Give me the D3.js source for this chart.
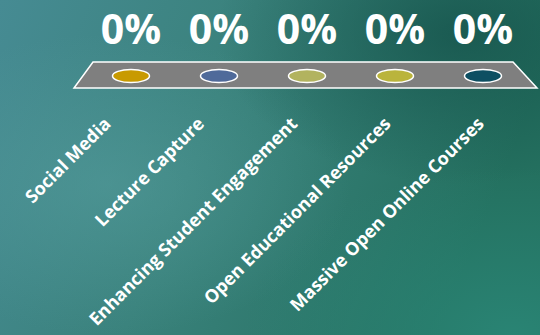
<!DOCTYPE html>
<html>
<head>
<meta charset="utf-8">
<script src="https://cdn.jsdelivr.net/npm/d3@7"></script>
<style>
  body { margin: 0; overflow: hidden; }
  svg { display: block; }
</style>
</head>
<body>
<div class="chart"></div>
<script>
// data
var categories = ["Social Media", "Lecture Capture", "Enhancing Student Engagement",
  "Open Educational Resources", "Massive Open Online Courses"];
var values = [0, 0, 0, 0, 0];
var barColors = ["#c89a00", "#4f6a9a", "#b2b35f", "#bab43c", "#0d4f62"];

var svgWidth = 540;
var svgHeight = 335;

var svg = d3.select(".chart")
  .append("svg")
  .attr("width", svgWidth)
  .attr("height", svgHeight);

// background gradients
var defs = svg.append("defs");
var bg = defs.append("linearGradient").attr("id", "bg")
  .attr("x1", "0").attr("y1", "0").attr("x2", "1").attr("y2", "0.25");
bg.append("stop").attr("offset", "0").attr("stop-color", "#468b93");
bg.append("stop").attr("offset", "0.45").attr("stop-color", "#3a827c");
bg.append("stop").attr("offset", "1").attr("stop-color", "#24705f");

var glow = defs.append("radialGradient").attr("id", "glow")
  .attr("cx", "0.2").attr("cy", "0.55").attr("r", "0.45");
glow.append("stop").attr("offset", "0").attr("stop-color", "#58a0a0").attr("stop-opacity", 0.5);
glow.append("stop").attr("offset", "1").attr("stop-color", "#58a0a0").attr("stop-opacity", 0);

var dark = defs.append("radialGradient").attr("id", "dark")
  .attr("cx", "0.85").attr("cy", "0.1").attr("r", "0.45");
dark.append("stop").attr("offset", "0").attr("stop-color", "#134f48").attr("stop-opacity", 0.7);
dark.append("stop").attr("offset", "1").attr("stop-color", "#134f48").attr("stop-opacity", 0);

var lowRight = defs.append("radialGradient").attr("id", "lowRight")
  .attr("cx", "0.95").attr("cy", "1").attr("r", "0.5");
lowRight.append("stop").attr("offset", "0").attr("stop-color", "#2a8676").attr("stop-opacity", 0.9);
lowRight.append("stop").attr("offset", "1").attr("stop-color", "#2a8676").attr("stop-opacity", 0);

["bg", "glow", "dark", "lowRight"].forEach(function (id) {
  svg.append("rect")
    .attr("width", svgWidth)
    .attr("height", svgHeight)
    .attr("fill", "url(#" + id + ")");
});

// scales
var xScale = d3.scalePoint().domain(categories).range([131, 483]);
var labelScale = d3.scalePoint().domain(categories).range([112, 485]);
var rScale = d3.scaleLinear().domain([0, 1]).range([0, 60]);

var shelfTop = 62;
var shelfBottom = 88;
var x0 = xScale(categories[0]);
var x1 = xScale(categories[categories.length - 1]);

// the shelf the bars stand on
svg.append("polygon")
  .attr("points", [
    [x0 - 38, shelfTop], [x1 + 30, shelfTop],
    [x1 + 54, shelfBottom], [x0 - 57, shelfBottom]
  ].map(function (p) { return p.join(","); }).join(" "))
  .attr("fill", "#7f7f7f")
  .attr("stroke", "#ffffff")
  .attr("stroke-width", 1.5);

// the bars (0% -> flat puddles on the shelf)
svg.selectAll(".bar")
  .data(values)
  .enter()
  .append("ellipse")
  .attr("class", "bar")
  .attr("cx", function (d, i) { return xScale(categories[i]); })
  .attr("cy", 76 - rScale(0))
  .attr("rx", function (d) { return 18.5 + rScale(d); })
  .attr("ry", 6.5)
  .attr("fill", function (d, i) { return barColors[i]; })
  .attr("stroke", "#ffffff")
  .attr("stroke-width", 1.5);

// percentage labels
svg.selectAll(".pct")
  .data(values)
  .enter()
  .append("text")
  .attr("class", "pct")
  .attr("x", function (d, i) { return xScale(categories[i]); })
  .attr("y", 44)
  .attr("text-anchor", "middle")
  .attr("font-family", "'Open Sans', sans-serif")
  .attr("font-weight", "bold")
  .attr("font-size", "41px")
  .attr("fill", "#ffffff")
  .text(function (d) { return d3.format(".0%")(d); });

// category labels, rotated
svg.selectAll(".cat")
  .data(categories)
  .enter()
  .append("text")
  .attr("class", "cat")
  .attr("transform", function (d) { return "translate(" + labelScale(d) + ",125)rotate(-45)"; })
  .attr("text-anchor", "end")
  .attr("font-family", "'Open Sans', sans-serif")
  .attr("font-weight", "bold")
  .attr("font-size", "18px")
  .attr("fill", "#ffffff")
  .text(function (d) { return d; });
</script>
</body>
</html>
